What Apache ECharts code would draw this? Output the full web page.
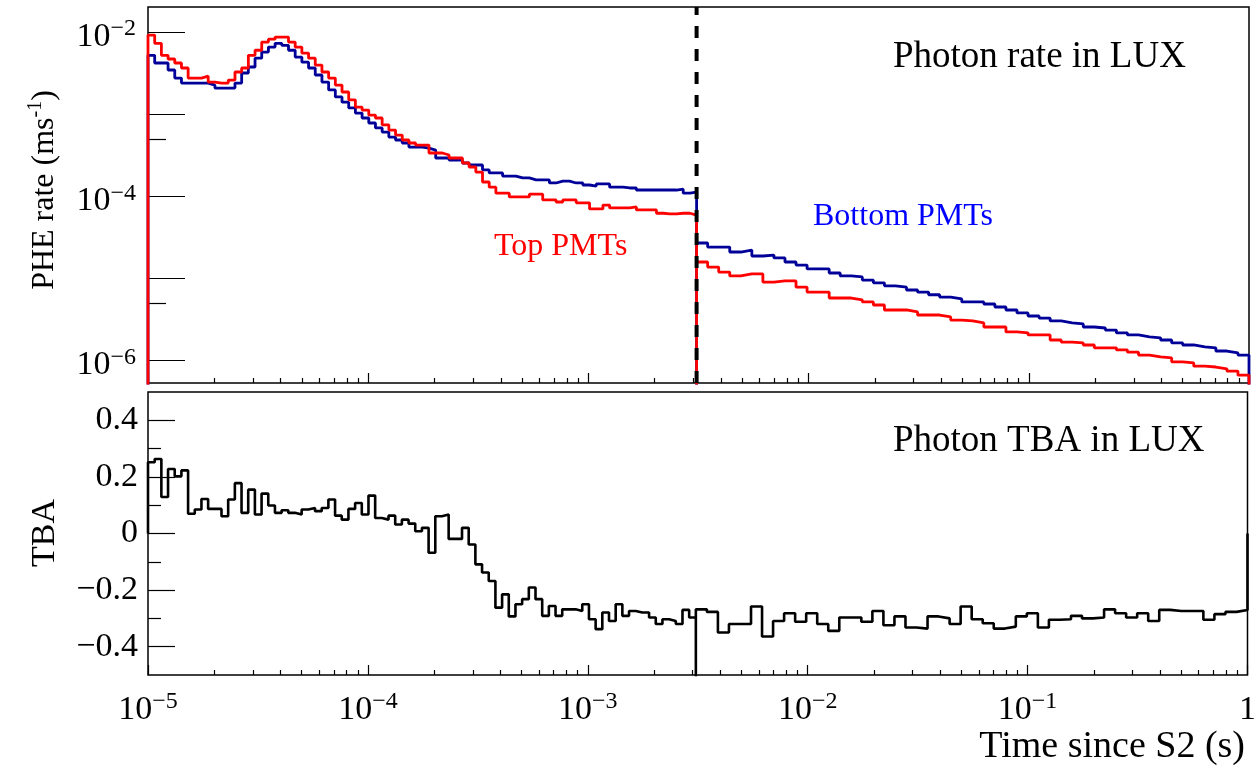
<!DOCTYPE html>
<html><head><meta charset="utf-8">
<script src="https://cdn.jsdelivr.net/npm/echarts@6/dist/echarts.min.js"></script>
<style>html,body{margin:0;padding:0;background:#fff}#c{width:1259px;height:773px}</style>
</head><body><div id="c"></div>
<script>
// ---- binning (log-spaced bins; the readout window changes at BREAK_T) ----
const X_MIN = 1e-5, X_MAX = 1, BREAK_T = 3.1e-3;
const N_LEFT = 82, N_RIGHT = 50;

// ---- PHE rate, top PMTs (red) and bottom PMTs (blue), ms^-1 ----
const topRateEarly = [9.2e-3,7.3e-3,5.2e-3,4.7e-3,4.2e-3,3.65e-3,2.75e-3,2.75e-3,2.9e-3,2.46e-3,
 2.39e-3,2.39e-3,2.6e-3,3.26e-3,3.65e-3,5.2e-3,6.0e-3,7.55e-3,8.2e-3,8.7e-3,
 8.7e-3,7.55e-3,6.56e-3,5.55e-3,4.8e-3,3.96e-3,3.26e-3,2.75e-3,2.26e-3,1.86e-3,
 1.49e-3,1.22e-3,1.12e-3,9.75e-4,8.97e-4,7.4e-4,6.4e-4,5.56e-4,4.84e-4,4.45e-4,
 4.2e-4,4.2e-4,3.36e-4,3.36e-4,3.18e-4,2.92e-4,2.92e-4,2.54e-4,2.27e-4,1.97e-4,
 1.49e-4,1.29e-4,1.09e-4,1.09e-4,9.8e-5,9.8e-5,9.8e-5,1.06e-4,1.06e-4,9.0e-5,
 9.0e-5,8.5e-5,9.0e-5,9.0e-5,8.3e-5,8.3e-5,7.0e-5,7.0e-5,7.8e-5,7.2e-5,
 7.2e-5,7.2e-5,7.4e-5,6.8e-5,6.8e-5,6.8e-5,6.2e-5,6.1e-5,6.1e-5,6.2e-5,
 6.2e-5,5.9e-5];
const bottomRateEarly = [5.2e-3,4.2e-3,4.2e-3,3.45e-3,2.75e-3,2.39e-3,2.39e-3,2.39e-3,2.39e-3,2.26e-3,
 2.08e-3,2.08e-3,2.08e-3,2.39e-3,3.17e-3,3.75e-3,4.8e-3,5.7e-3,6.56e-3,7.3e-3,
 6.9e-3,6.0e-3,4.96e-3,4.3e-3,3.65e-3,3.0e-3,2.46e-3,1.97e-3,1.62e-3,1.40e-3,
 1.19e-3,1.03e-3,8.97e-4,7.8e-4,6.8e-4,6.05e-4,5.26e-4,4.84e-4,4.45e-4,3.97e-4,
 3.97e-4,3.86e-4,3.65e-4,2.92e-4,2.92e-4,2.76e-4,2.76e-4,2.54e-4,2.40e-4,2.40e-4,
 2.09e-4,1.92e-4,1.92e-4,1.76e-4,1.76e-4,1.67e-4,1.67e-4,1.58e-4,1.58e-4,1.58e-4,
 1.45e-4,1.53e-4,1.53e-4,1.45e-4,1.45e-4,1.37e-4,1.33e-4,1.41e-4,1.41e-4,1.29e-4,
 1.29e-4,1.26e-4,1.26e-4,1.19e-4,1.19e-4,1.19e-4,1.19e-4,1.19e-4,1.19e-4,1.22e-4,
 1.09e-4,1.12e-4];
const topRateLate = [1.58e-5,1.37e-5,1.19e-5,1.07e-5,1.13e-5,1.13e-5,9.0e-6,9.3e-6,9.3e-6,7.8e-6,
 6.8e-6,6.8e-6,5.75e-6,5.75e-6,5.45e-6,5.15e-6,4.73e-6,4.11e-6,4.11e-6,3.89e-6,
 3.57e-6,3.57e-6,3.38e-6,3.10e-6,3.02e-6,2.86e-6,2.55e-6,2.55e-6,2.22e-6,2.16e-6,
 2.04e-6,2.04e-6,1.77e-6,1.67e-6,1.63e-6,1.54e-6,1.42e-6,1.42e-6,1.34e-6,1.26e-6,
 1.16e-6,1.10e-6,1.07e-6,9.6e-7,9.3e-7,8.5e-7,8.3e-7,7.9e-7,7.4e-7,6.6e-7];
const bottomRateLate = [2.69e-5,2.40e-5,2.40e-5,2.09e-5,2.21e-5,1.87e-5,1.92e-5,1.77e-5,1.58e-5,1.45e-5,
 1.30e-5,1.30e-5,1.16e-5,1.07e-5,1.04e-5,9.5e-6,8.8e-6,8.1e-6,7.8e-6,7.2e-6,
 6.8e-6,6.3e-6,5.9e-6,5.6e-6,5.15e-6,5.15e-6,4.86e-6,4.47e-6,4.11e-6,3.78e-6,
 3.47e-6,3.28e-6,3.02e-6,2.86e-6,2.78e-6,2.55e-6,2.48e-6,2.34e-6,2.16e-6,2.04e-6,
 1.93e-6,1.88e-6,1.77e-6,1.63e-6,1.54e-6,1.46e-6,1.42e-6,1.30e-6,1.23e-6,1.16e-6];
const EMPTY_RATE = 1e-9;   // empty bin (below axis)

// ---- top/bottom asymmetry ----
const tbaEarly = [0.252,0.263,0.129,0.228,0.202,0.223,0.070,0.085,0.122,0.087,
 0.087,0.061,0.120,0.178,0.073,0.155,0.067,0.141,0.099,0.073,
 0.082,0.073,0.067,0.085,0.090,0.079,0.090,0.120,0.063,0.049,
 0.087,0.108,0.067,0.134,0.055,0.049,0.063,0.032,0.049,0.035,
 0.008,0.020,-0.068,0.061,0.067,-0.019,-0.019,0.020,-0.039,-0.109,
 -0.138,-0.168,-0.262,-0.215,-0.293,-0.250,-0.232,-0.191,-0.232,-0.291,
 -0.256,-0.291,-0.268,-0.268,-0.274,-0.250,-0.303,-0.338,-0.279,-0.309,
 -0.250,-0.291,-0.274,-0.279,-0.279,-0.297,-0.320,-0.303,-0.309,-0.320,
 -0.270,-0.297];
const tbaLate = [-0.268,-0.277,-0.350,-0.320,-0.320,-0.258,-0.364,-0.309,-0.282,-0.312,
 -0.282,-0.320,-0.344,-0.297,-0.297,-0.312,-0.274,-0.324,-0.293,-0.332,
 -0.336,-0.293,-0.300,-0.320,-0.258,-0.303,-0.317,-0.336,-0.329,-0.293,
 -0.282,-0.332,-0.305,-0.303,-0.291,-0.300,-0.297,-0.268,-0.282,-0.297,
 -0.282,-0.309,-0.270,-0.274,-0.274,-0.274,-0.305,-0.285,-0.277,-0.270];
const TBA_GAP = -1;        // empty bin at the window change

// ---- axes / ticks ----
const X_LABEL_TICKS = [1e-5,1e-4,1e-3,1e-2,1e-1,1];
const X_MINOR_MULT = [2,3,4,5,6,7,8,9];
const RATE_MIN = 5.3e-7, RATE_MAX = 2.02e-2;
const RATE_LABEL_TICKS = [1e-2,1e-4,1e-6];
const RATE_MAJOR_TICKS = [1e-2,1e-3,1e-4,1e-5,1e-6];
const RATE_MINOR_TICKS = [5e-4,5e-6];
const TBA_MIN = -0.5, TBA_MAX = 0.5;
const TBA_LABEL_TICKS = [-0.4,-0.2,0,0.2,0.4];
const TBA_MINOR_TICKS = [-0.3,-0.1,0.1,0.3];

const FONT = 'Liberation Serif';

function logEdges(a, b, n) {
  const la = Math.log10(a), lb = Math.log10(b);
  return Array.from({length: n + 1}, (_, i) => Math.pow(10, la + (lb - la) * i / n));
}
const edgesEarly = logEdges(X_MIN, BREAK_T, N_LEFT);
const edgesLate = logEdges(BREAK_T, X_MAX, N_RIGHT);
const xMinorTicks = [];
X_LABEL_TICKS.slice(0, -1).forEach(d => X_MINOR_MULT.forEach(m => xMinorTicks.push(d * m)));

function histPath(early, late, base, gap) {
  const pts = [[edgesEarly[0], base]];
  early.forEach((v, i) => pts.push([edgesEarly[i], v]));
  pts.push([edgesEarly[N_LEFT], early[early.length - 1]]);
  pts.push([BREAK_T, gap]);
  late.forEach((v, i) => pts.push([edgesLate[i], v]));
  pts.push([edgesLate[N_RIGHT], late[late.length - 1]]);
  pts.push([edgesLate[N_RIGHT], base]);
  return pts;
}

const supRich = {
  b: {fontFamily: FONT, fontSize: 34, color: '#000', lineHeight: 40},
  e: {fontFamily: FONT, fontSize: 24, color: '#000', lineHeight: 22, verticalAlign: 'top'}
};
function powLabel(v) {
  const e = Math.round(Math.log10(v));
  if (e === 0) return '{b|1}';
  return '{b|10}{e|' + (e < 0 ? '\u2212' + (-e) : e) + '}';
}

const G0 = {left: 148, top: 7, width: 1101, height: 376};
const G1 = {left: 148, top: 392, width: 1101, height: 283};

function xAx(grid, ticks, len, labels) {
  return {
    type: 'log', gridIndex: grid, min: X_MIN, max: X_MAX, logBase: 10, position: 'bottom',
    axisLine: {show: false, onZero: false}, splitLine: {show: false},
    axisTick: {show: true, inside: true, length: len, customValues: ticks, lineStyle: {color: '#000', width: 1.2}},
    axisLabel: labels ? {show: true, customValues: X_LABEL_TICKS, formatter: powLabel, rich: supRich, margin: 15} : {show: false}
  };
}
function yAx(extra) {
  return Object.assign({position: 'left', axisLine: {show: false, onZero: false}, splitLine: {show: false}}, extra);
}

const option = {
  animation: false,
  backgroundColor: '#fff',
  grid: [
    Object.assign({show: true, borderColor: '#000', borderWidth: 1.5, backgroundColor: 'transparent'}, G0),
    Object.assign({show: true, borderColor: '#000', borderWidth: 1.5, backgroundColor: 'transparent'}, G1)
  ],
  xAxis: [
    xAx(0, X_LABEL_TICKS, 10, false),
    xAx(0, xMinorTicks, 5, false),
    xAx(1, X_LABEL_TICKS, 10, true),
    xAx(1, xMinorTicks, 5, false)
  ],
  yAxis: [
    yAx({type: 'log', gridIndex: 0, min: RATE_MIN, max: RATE_MAX, logBase: 10,
     axisTick: {show: true, inside: true, length: 37, customValues: RATE_MAJOR_TICKS, lineStyle: {color: '#000', width: 1.2}},
     axisLabel: {show: true, customValues: RATE_LABEL_TICKS, formatter: powLabel, rich: supRich, margin: 12, padding: [10, 0, 0, 0]}}),
    yAx({type: 'log', gridIndex: 0, min: RATE_MIN, max: RATE_MAX, logBase: 10,
     axisTick: {show: true, inside: true, length: 18, customValues: RATE_MINOR_TICKS, lineStyle: {color: '#000', width: 1.2}},
     axisLabel: {show: false}}),
    yAx({type: 'value', gridIndex: 1, min: TBA_MIN, max: TBA_MAX, interval: 0.1,
     axisTick: {show: true, inside: true, length: 27, customValues: TBA_LABEL_TICKS, lineStyle: {color: '#000', width: 1.2}},
     axisLabel: {show: true, customValues: TBA_LABEL_TICKS, margin: 10,
       formatter: v => (Math.abs(v) < 1e-9 ? '0' : (v < 0 ? '\u2212' : '') + Math.abs(v).toFixed(1)),
       fontFamily: FONT, fontSize: 34, color: '#000'}}),
    yAx({type: 'value', gridIndex: 1, min: TBA_MIN, max: TBA_MAX, interval: 0.1,
     axisTick: {show: true, inside: true, length: 13, customValues: TBA_MINOR_TICKS, lineStyle: {color: '#000', width: 1.2}},
     axisLabel: {show: false}})
  ],
  series: [
    {name: 'Bottom PMTs', type: 'line', xAxisIndex: 0, yAxisIndex: 0, step: 'end', symbol: 'none', clip: true, z: 2,
     data: histPath(bottomRateEarly, bottomRateLate, EMPTY_RATE, EMPTY_RATE),
     lineStyle: {color: '#000099', width: 2.8}},
    {name: 'Top PMTs', type: 'line', xAxisIndex: 0, yAxisIndex: 0, step: 'end', symbol: 'none', clip: true, z: 3,
     data: histPath(topRateEarly, topRateLate, EMPTY_RATE, EMPTY_RATE),
     lineStyle: {color: '#ff0000', width: 2.8}},
    {name: 'window change', type: 'line', xAxisIndex: 0, yAxisIndex: 0, symbol: 'none', clip: true, z: 5,
     data: [[BREAK_T, RATE_MIN], [BREAK_T, RATE_MAX]],
     lineStyle: {color: '#000', width: 4, type: [12, 11]}},
    {name: 'TBA', type: 'line', xAxisIndex: 2, yAxisIndex: 2, step: 'end', symbol: 'none', clip: true,
     data: histPath(tbaEarly, tbaLate, 0, TBA_GAP),
     lineStyle: {color: '#000', width: 2.6}}
  ],
  graphic: [
    {type: 'text', x: 893, y: 57, style: {text: 'Photon rate in LUX', font: '37px "Liberation Serif"', fill: '#000', align: 'left', verticalAlign: 'middle'}},
    {type: 'text', x: 893, y: 441, style: {text: 'Photon TBA in LUX', font: '37px "Liberation Serif"', fill: '#000', align: 'left', verticalAlign: 'middle'}},
    {type: 'text', x: 494, y: 247, style: {text: 'Top PMTs', font: '32px "Liberation Serif"', fill: '#ff0000', align: 'left', verticalAlign: 'middle'}},
    {type: 'text', x: 813, y: 217, style: {text: 'Bottom PMTs', font: '32px "Liberation Serif"', fill: '#0000ff', align: 'left', verticalAlign: 'middle'}},
    {type: 'text', x: 1245, y: 747, style: {text: 'Time since S2 (s)', font: '38px "Liberation Serif"', fill: '#000', align: 'right', verticalAlign: 'middle'}},
    {type: 'text', x: 45, y: 190, rotation: Math.PI / 2,
     style: {text: '{a|PHE rate (ms}{s|-1}{a|)}', align: 'center', verticalAlign: 'middle',
       rich: {a: {fontFamily: FONT, fontSize: 32, fill: '#000', lineHeight: 38},
              s: {fontFamily: FONT, fontSize: 20, fill: '#000', lineHeight: 20, verticalAlign: 'top'}}}},
    {type: 'text', x: 45, y: 533, rotation: Math.PI / 2,
     style: {text: 'TBA', font: '34px "Liberation Serif"', fill: '#000', align: 'center', verticalAlign: 'middle'}}
  ]
};
const chart = echarts.init(document.getElementById('c'), null, {renderer: 'canvas'});
chart.setOption(option);
</script></body></html>
